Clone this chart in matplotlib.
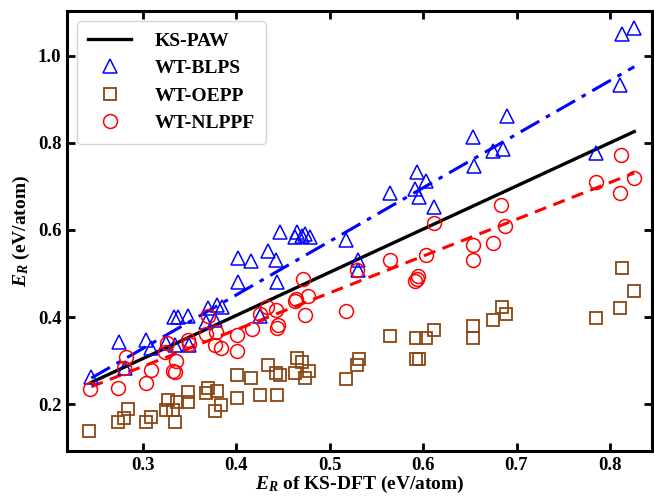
import matplotlib
matplotlib.use('Agg')
import matplotlib.pyplot as plt
from matplotlib import rcParams

rcParams['font.family'] = 'Liberation Serif'
rcParams['font.weight'] = 'bold'
rcParams['mathtext.fontset'] = 'custom'
rcParams['mathtext.it'] = 'Liberation Serif:italic:bold'
rcParams['mathtext.rm'] = 'Liberation Serif:bold'

# fitted lines (endpoints)
fit_x = [0.245, 0.826]
paw_y = [0.25, 0.826]
blps_fit_y = [0.26, 0.975]
nlppf_fit_y = [0.24, 0.731]

# WT-BLPS
blps_x = [0.245, 0.275, 0.281, 0.304, 0.309, 0.325, 0.335, 0.350, 0.333, 0.338,
          0.348, 0.370, 0.379, 0.385, 0.368, 0.377, 0.426, 0.402, 0.416, 0.434,
          0.443, 0.402, 0.444, 0.447, 0.465, 0.463, 0.470, 0.474, 0.479, 0.518,
          0.530, 0.530, 0.565, 0.591, 0.593, 0.596, 0.603, 0.612, 0.653, 0.654,
          0.675, 0.685, 0.690, 0.785, 0.811, 0.813, 0.826]
blps_y = [0.263, 0.343, 0.283, 0.348, 0.329, 0.340, 0.337, 0.335, 0.401, 0.401,
          0.403, 0.420, 0.428, 0.422, 0.389, 0.394, 0.402, 0.536, 0.528, 0.551,
          0.531, 0.481, 0.481, 0.596, 0.596, 0.585, 0.587, 0.591, 0.584, 0.577,
          0.531, 0.508, 0.684, 0.694, 0.734, 0.675, 0.712, 0.653, 0.813, 0.746,
          0.781, 0.786, 0.861, 0.777, 0.933, 1.049, 1.064]

# WT-OEPP
oepp_x = [0.243, 0.274, 0.280, 0.284, 0.304, 0.309, 0.325, 0.327, 0.332, 0.334,
          0.337, 0.348, 0.348, 0.368, 0.370, 0.380, 0.384, 0.377, 0.401, 0.401,
          0.416, 0.426, 0.434, 0.443, 0.447, 0.444, 0.465, 0.470, 0.463, 0.478,
          0.474, 0.518, 0.529, 0.531, 0.565, 0.592, 0.603, 0.612, 0.592, 0.596,
          0.653, 0.653, 0.675, 0.684, 0.689, 0.785, 0.811, 0.813, 0.826]
oepp_y = [0.139, 0.159, 0.169, 0.188, 0.159, 0.170, 0.186, 0.209, 0.186, 0.159,
          0.205, 0.228, 0.205, 0.225, 0.237, 0.230, 0.199, 0.185, 0.268, 0.215,
          0.260, 0.222, 0.290, 0.271, 0.268, 0.220, 0.307, 0.297, 0.271, 0.277,
          0.261, 0.257, 0.290, 0.303, 0.356, 0.351, 0.351, 0.370, 0.303, 0.303,
          0.379, 0.351, 0.393, 0.424, 0.407, 0.399, 0.420, 0.513, 0.461]

# WT-NLPPF
nlppf_x = [0.244, 0.274, 0.282, 0.280, 0.303, 0.309, 0.324, 0.326, 0.336, 0.332,
           0.334, 0.348, 0.349, 0.370, 0.368, 0.378, 0.377, 0.384, 0.401, 0.401,
           0.417, 0.426, 0.433, 0.443, 0.445, 0.444, 0.471, 0.464, 0.463, 0.477,
           0.474, 0.518, 0.529, 0.565, 0.591, 0.593, 0.595, 0.603, 0.612, 0.653,
           0.653, 0.675, 0.683, 0.688, 0.785, 0.812, 0.826, 0.811]
nlppf_y = [0.234, 0.238, 0.309, 0.282, 0.248, 0.278, 0.320, 0.340, 0.300, 0.277,
           0.273, 0.347, 0.338, 0.402, 0.361, 0.365, 0.336, 0.330, 0.323, 0.358,
           0.373, 0.406, 0.424, 0.416, 0.382, 0.374, 0.487, 0.442, 0.437, 0.449,
           0.404, 0.413, 0.507, 0.530, 0.483, 0.488, 0.494, 0.543, 0.615, 0.566,
           0.532, 0.569, 0.658, 0.608, 0.710, 0.772, 0.719, 0.686]

fig = plt.figure(figsize=(6.54, 4.98), dpi=100)
ax = fig.add_axes([0.1025, 0.094, 0.8945, 0.884])

ax.plot(fit_x, paw_y, color='black', lw=2.4, label='KS-PAW')
ax.plot(fit_x, blps_fit_y, color='blue', lw=2.2, ls=(0, (7, 2.5, 1.5, 2.5)))
ax.plot(fit_x, nlppf_fit_y, color='red', lw=2.2, ls=(0, (4, 2.5)))

ax.plot(blps_x, blps_y, ls='none', marker='^', ms=10, mfc='none', mec='blue',
        mew=1.1, label='WT-BLPS')
ax.plot(oepp_x, oepp_y, ls='none', marker='s', ms=9, mfc='none', mec='#8B4513',
        mew=1.3, label='WT-OEPP')
ax.plot(nlppf_x, nlppf_y, ls='none', marker='o', ms=10, mfc='none', mec='red',
        mew=1.1, label='WT-NLPPF')

ax.set_xlim(0.219, 0.845)
ax.set_ylim(0.092, 1.103)
ax.set_xticks([0.3, 0.4, 0.5, 0.6, 0.7, 0.8])
ax.set_yticks([0.2, 0.4, 0.6, 0.8, 1.0])
ax.tick_params(direction='in', length=6, width=2, labelsize=13.5,
               top=True, right=True, pad=4)
for s in ax.spines.values():
    s.set_linewidth(2.2)

ax.set_xlabel('$E_R$ of KS-DFT (eV/atom)', fontsize=14, fontweight='bold', labelpad=0)
ax.set_ylabel('$E_R$ (eV/atom)', fontsize=14, fontweight='bold', labelpad=4)

ax.legend(loc='upper left', frameon=True, handlelength=2.2,
          borderpad=0.6, labelspacing=0.5, handletextpad=1.2,
          prop={'weight': 'bold', 'size': 14})

fig.savefig('out.png', dpi=100)
